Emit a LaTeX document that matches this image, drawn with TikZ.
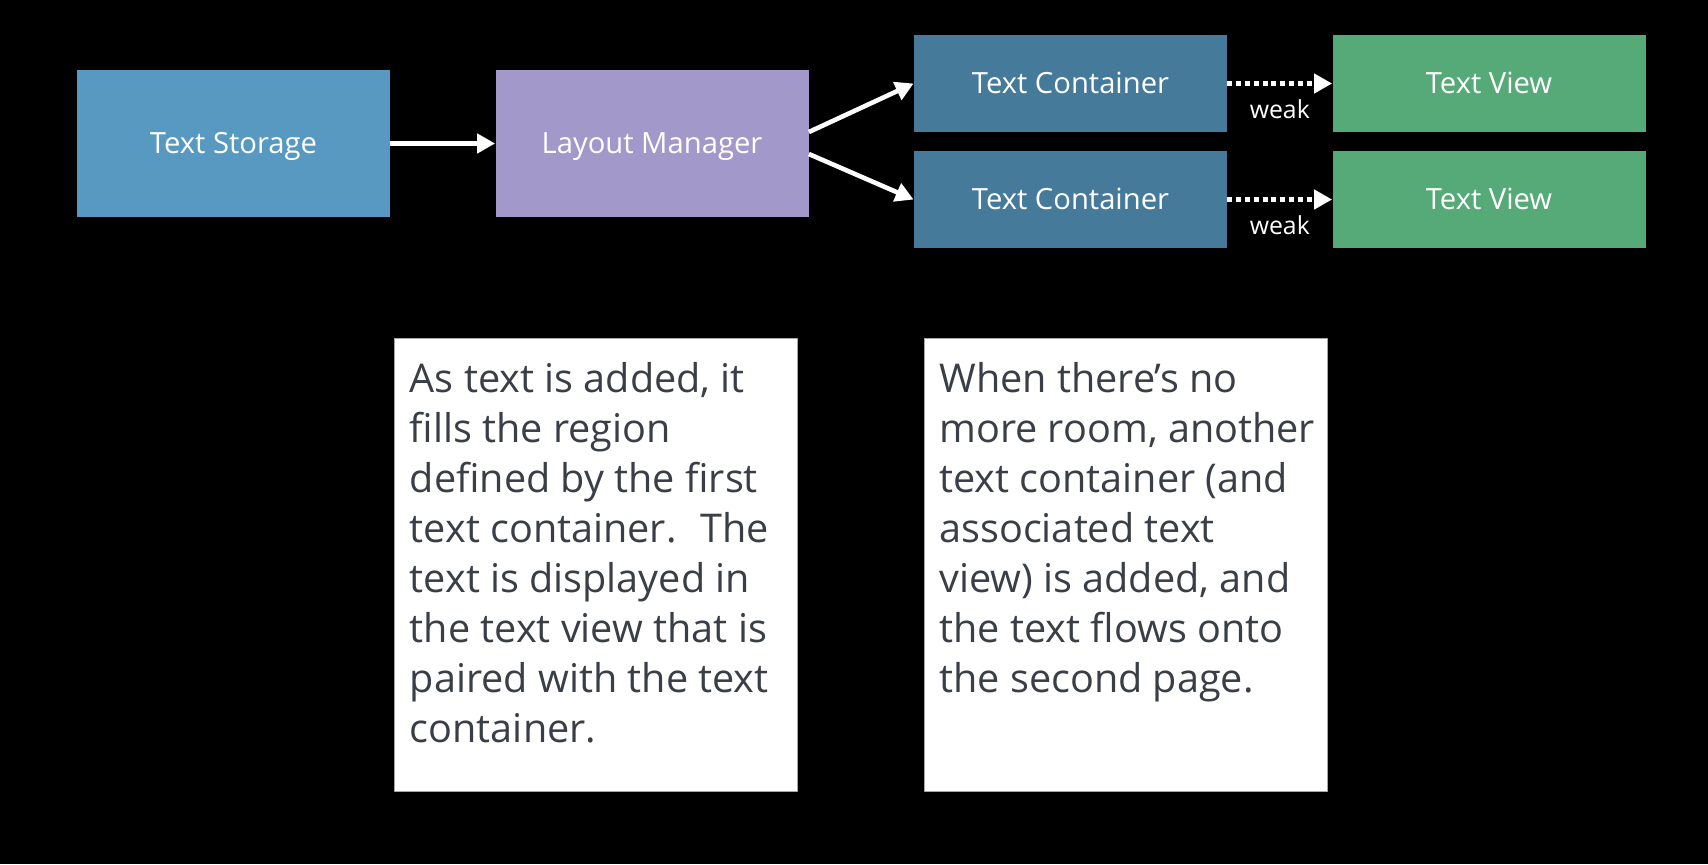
\documentclass[tikz,border=0pt]{standalone}
\usepackage{fontspec}
\setmainfont{Open Sans}
\usetikzlibrary{arrows.meta,positioning}
\definecolor{storageblue}{HTML}{5899C1}
\definecolor{layoutpurple}{HTML}{A298CA}
\definecolor{containerblue}{HTML}{457A9B}
\definecolor{viewgreen}{HTML}{56AA78}
\definecolor{notegray}{HTML}{3A3F47}
\begin{document}
\begin{tikzpicture}[x=0.5pt, y=-0.5pt, >={Triangle[length=9pt,width=9.5pt]}, line join=round,
    block/.style={inner sep=0pt, text=white, font=\fontsize{14.6}{17}\selectfont, text height=10.4pt, text depth=0pt, minimum width=156.5pt},
    bigblock/.style={block, minimum height=73.5pt},
    smallblock/.style={block, minimum height=48.5pt},
    note/.style={fill=white, draw=gray!70, line width=0.4pt, minimum width=201.5pt, minimum height=226.5pt, inner sep=0pt},
    notetext/.style={anchor=north west, align=left, inner sep=0pt, text=notegray, font=\fontsize{19.8}{25}\selectfont},
    link/.style={->, white, line width=2.3pt},
    weaklink/.style={link, dash pattern=on 2.5pt off 1.9pt}]
  % background and page size
  \fill[black] (0,0) rectangle (1708,864);
  \useasboundingbox (0,0) rectangle (1708,864);
  % blocks
  \node[bigblock, fill=storageblue] (storage) at (233.5,143.5) {Text Storage};
  \node[bigblock, fill=layoutpurple] (layout) at (652,143.5) {Layout Manager};
  \node[smallblock, fill=containerblue] (cont1) at (1070.5,83.5) {Text Container};
  \node[smallblock, fill=containerblue] (cont2) at (1070.5,199.5) {Text Container};
  \node[smallblock, fill=viewgreen] (view1) at (1489,83.5) {Text View};
  \node[smallblock, fill=viewgreen] (view2) at (1489,199.5) {Text View};
  % connectors
  \draw[link] (storage) -- (layout);
  \draw[link] ([yshift=5.75pt]layout.east) -- (cont1.west);
  \draw[link] ([yshift=-5.25pt]layout.east) -- (cont2.west);
  \foreach \c/\v in {cont1/view1, cont2/view2}{
    \draw[weaklink] (\c.east) -- (\v.west)
      node[midway, yshift=-13pt, text=white, font=\fontsize{12.4}{14}\selectfont] {weak};
  }
  % notes
  \node[note, anchor=north west] (note1) at (394,338) {};
  \node[note, anchor=north west] (note2) at (924,338) {};
  \node[notetext] (text1) at ([shift={(15.5,24)}]note1.north west)
    {As text is added, it\\fills the region\\defined by the first\\text container.~ The\\text is displayed in\\the text view that is\\paired with the text\\container.};
  \node[notetext] (text2) at ([shift={(15,24)}]note2.north west)
    {When there’s no\\more room, another\\text container (and\\associated text\\view) is added, and\\the text flows onto\\the second page.};
\end{tikzpicture}
\end{document}
